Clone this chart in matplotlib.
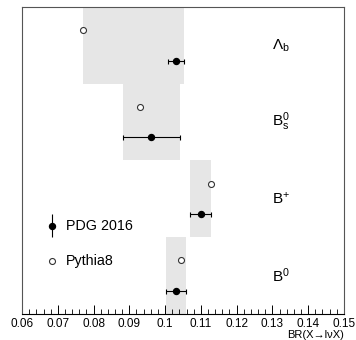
import matplotlib
matplotlib.use("Agg")
import matplotlib.pyplot as plt
from matplotlib.ticker import MultipleLocator

plt.rcParams['font.family'] = ['Liberation Sans', 'DejaVu Sans']

# data
hadrons = [r"B$^\mathrm{0}$", r"B$^\mathrm{+}$", r"B$_\mathrm{s}^\mathrm{0}$", r"$\Lambda_\mathrm{b}$"]
pdg_br = [0.1031, 0.1099, 0.0961, 0.1030]
pdg_err = [0.0028, 0.0028, 0.0080, 0.0022]
pythia_br = [0.1044, 0.1129, 0.0930, 0.0770]

plt.rcParams['mathtext.fontset'] = 'custom'
plt.rcParams['mathtext.rm'] = 'Liberation Sans'
plt.rcParams['mathtext.it'] = 'Liberation Sans:italic'

fig = plt.figure(figsize=(3.56, 3.40), dpi=100)
ax = fig.add_axes([0.062, 0.0765, 0.904, 0.903])

for i in range(len(hadrons)):
    lo = min(pdg_br[i] - pdg_err[i], pythia_br[i])
    hi = max(pdg_br[i] + pdg_err[i], pythia_br[i])
    ax.fill_between([lo, hi], i, i + 1, color='#e6e6e6', lw=0, zorder=1)
    ax.text(0.1298, i + 0.5, hadrons[i], fontsize=11, ha='left', va='center')

ypos = list(range(len(hadrons)))
ax.errorbar(pdg_br, [y + 0.3 for y in ypos], xerr=pdg_err, fmt='o', color='black',
            ms=4.3, lw=0.8, capsize=1.8, capthick=0.8, zorder=3)
ax.plot(pythia_br, [y + 0.7 for y in ypos], 'o', mfc='white', mec='#333333',
        ms=4.3, mew=0.8, zorder=3)

# legend drawn by hand like the ROOT one
ax.errorbar([0.0685], [1.15], yerr=[0.15], fmt='o', color='black', ms=4.3, lw=0.8,
            capsize=0, zorder=3)
ax.text(0.0722, 1.15, "PDG 2016", fontsize=10.3, va='center')
ax.plot([0.0685], [0.69], 'o', mfc='white', mec='#333333', ms=4.3, mew=0.8)
ax.text(0.0722, 0.69, "Pythia8", fontsize=10.3, va='center')

ax.set_xlim(0.06, 0.15)
ax.set_ylim(0, 4)
ax.xaxis.set_minor_locator(MultipleLocator(0.002))
ax.set_xticks([0.06, 0.07, 0.08, 0.09, 0.10, 0.11, 0.12, 0.13, 0.14, 0.15])
ax.set_xticklabels(["0.06", "0.07", "0.08", "0.09", "0.1", "0.11", "0.12",
                    "0.13", "0.14", "0.15"], fontsize=8.5)
ax.tick_params(axis='x', which='major', direction='in', length=6.5, width=0.7, pad=3)
ax.tick_params(axis='x', which='minor', direction='in', length=3.5, width=0.6)
ax.set_yticks([])
for s in ax.spines.values():
    s.set_color('#555555')
    s.set_linewidth(0.8)
ax.spines['bottom'].set_color('black')

ax.set_xlabel("BR(X\u2192l\u03bdX)", fontsize=8, loc='right', labelpad=0)

fig.savefig("out.png", dpi=100)
